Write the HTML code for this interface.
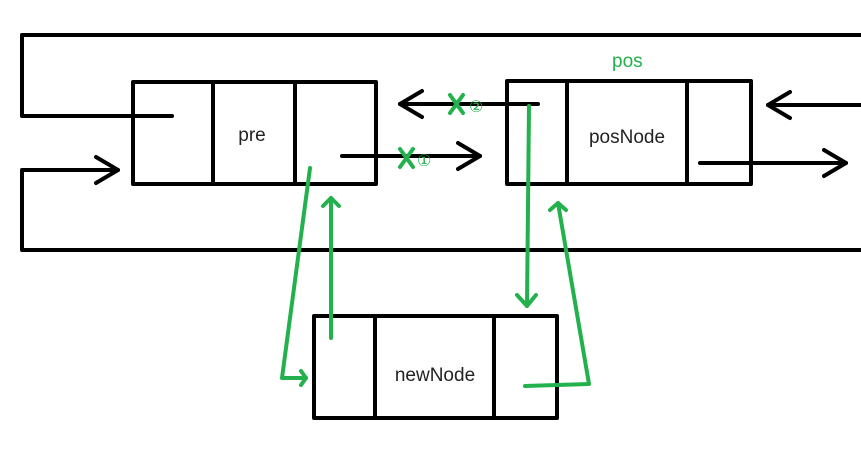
<!DOCTYPE html>
<html><head><style>body{margin:0;background:#fff}svg{display:block}</style></head><body>
<svg width="861" height="461" viewBox="0 0 861 461" xmlns="http://www.w3.org/2000/svg">
<g fill="none" stroke="#000" stroke-width="4" stroke-linecap="round" stroke-linejoin="round">
<rect x="133" y="82" width="243" height="102"/><line x1="213" y1="82" x2="213" y2="184"/><line x1="295" y1="82" x2="295" y2="184"/>
<rect x="507" y="81" width="244" height="103"/><line x1="567" y1="81" x2="567" y2="184"/><line x1="687" y1="81" x2="687" y2="184"/>
<rect x="314" y="316" width="243" height="102"/><line x1="375" y1="316" x2="375" y2="418"/><line x1="494" y1="316" x2="494" y2="418"/>
<polyline points="861,35 22,35 22,116 172,116"/>
<polyline points="861,250 22,250 22,170 118,170"/><polyline points="96,157 118,170 96,183"/>
<line x1="342" y1="156" x2="480" y2="156"/><polyline points="458,143 480,156 458,169"/>
<line x1="538" y1="104" x2="400" y2="104"/><polyline points="422,91 400,104 422,117"/>
<line x1="861" y1="105" x2="768" y2="105"/><polyline points="790,92 768,105 790,118"/>
<line x1="700" y1="163" x2="846" y2="163"/><polyline points="824,150 846,163 824,176"/>
</g>
<g fill="none" stroke="#22b14c" stroke-width="4" stroke-linecap="round" stroke-linejoin="round">
<polyline points="310,168 282,378 306,378"/><polyline points="301,371 306,378 301,385"/>
<line x1="331" y1="338" x2="331" y2="198"/><polyline points="323,206 331,198 339,206"/>
<line x1="529" y1="106" x2="527" y2="306"/><polyline points="517,295 527,306 536,295"/>
<polyline points="525,386 589,384 558,203"/><polyline points="550,210 558,203 566,210"/>
<line x1="400" y1="149" x2="413" y2="167"/><line x1="413" y1="149" x2="400" y2="167"/>
<line x1="450" y1="95" x2="463" y2="113"/><line x1="463" y1="95" x2="450" y2="113"/>
</g>
<g font-family="Liberation Sans, sans-serif" fill="#22b14c" font-size="16">
<text x="417" y="166">①</text><text x="469" y="112">②</text>
<text x="612" y="67" font-size="19">pos</text>
</g>
<g font-family="Liberation Sans, sans-serif" fill="#222" font-size="19">
<text x="252" y="141" text-anchor="middle">pre</text>
<text x="627" y="143" text-anchor="middle">posNode</text>
<text x="435" y="381" text-anchor="middle">newNode</text>
</g>
</svg>
</body></html>
